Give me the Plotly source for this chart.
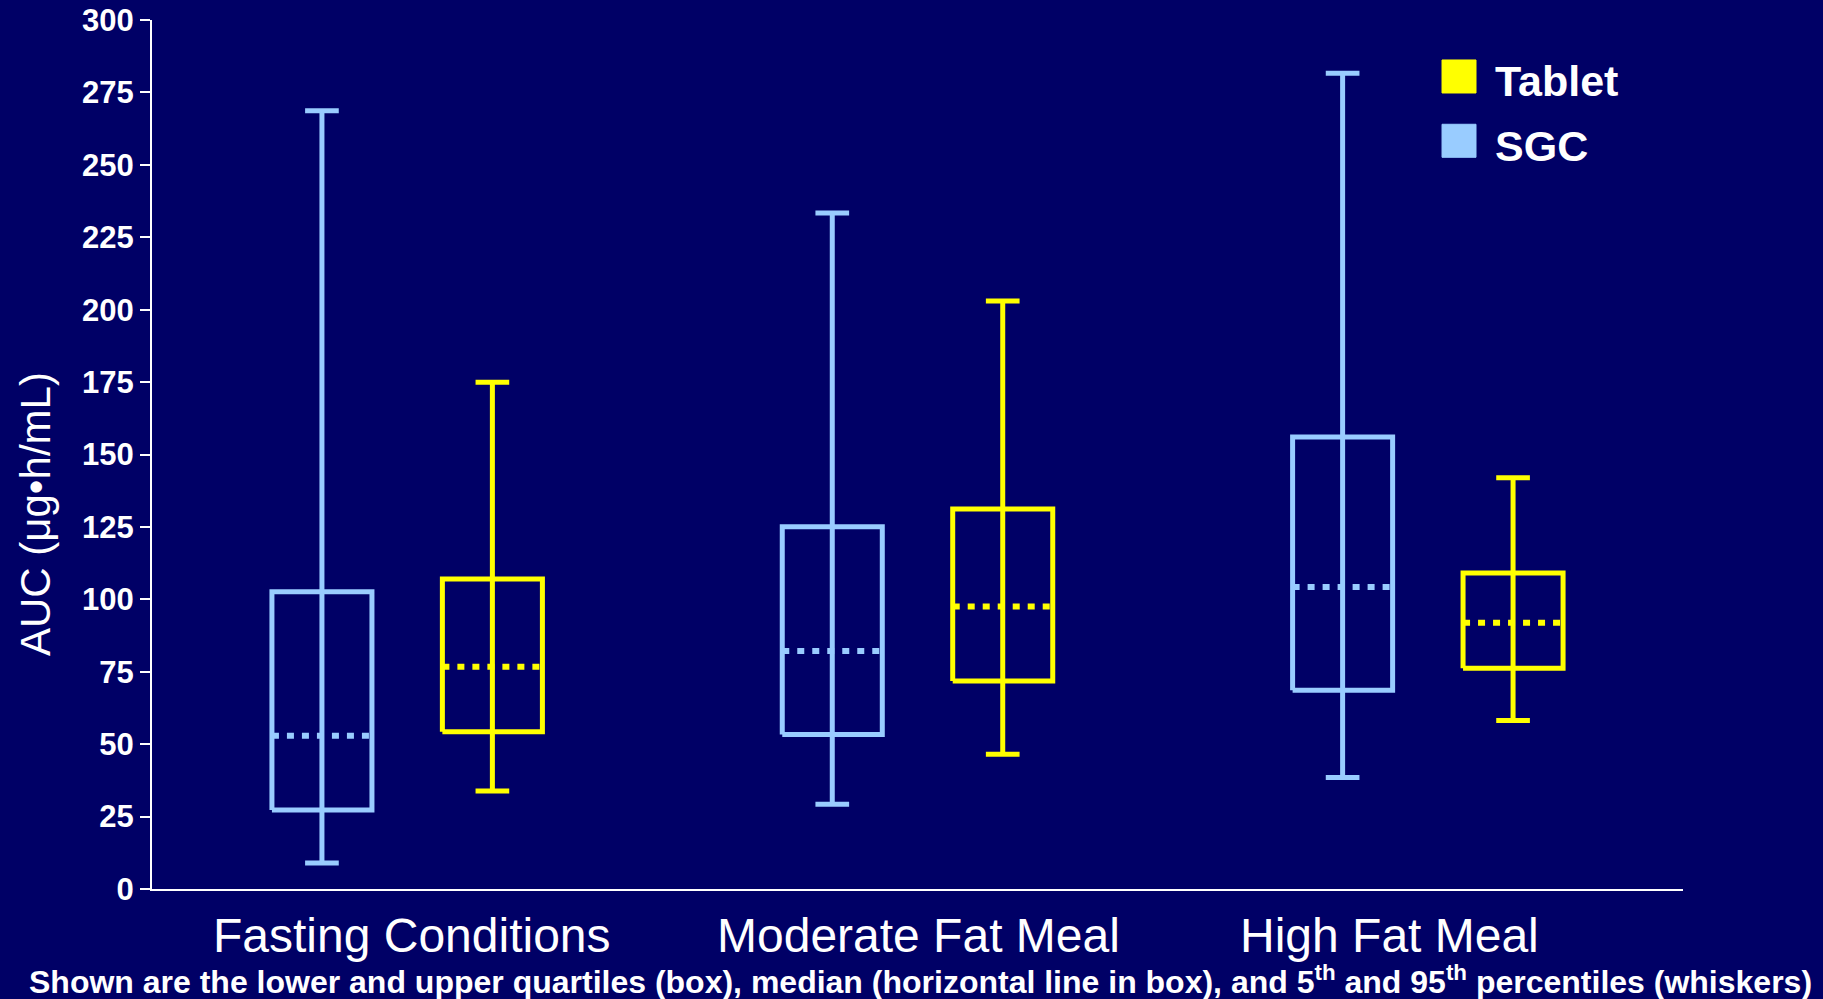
import plotly.graph_objects as go

# ---------------- data ----------------
categories = ["Fasting Conditions", "Moderate Fat Meal", "High Fat Meal"]

sgc_p5 = [9.0, 29.3, 38.5]
sgc_q1 = [27.3, 53.3, 68.6]
sgc_median = [52.9, 82.2, 104.3]
sgc_q3 = [102.6, 125.1, 156.0]
sgc_p95 = [268.7, 233.4, 281.6]

tab_p5 = [33.8, 46.5, 58.2]
tab_q1 = [54.3, 71.8, 76.2]
tab_median = [76.7, 97.5, 91.9]
tab_q3 = [107.0, 131.2, 109.1]
tab_p95 = [174.9, 203.0, 142.0]

y_ticks = [0, 25, 50, 75, 100, 125, 150, 175, 200, 225, 250, 275, 300]

# ---------------- style ----------------
BG = "#000066"
SGC_COLOR = "#99CCFF"
TAB_COLOR = "#FFFF00"
FONT = "Arial"

series = [
    ("SGC", SGC_COLOR, -0.167, sgc_p5, sgc_q1, sgc_median, sgc_q3, sgc_p95),
    ("Tablet", TAB_COLOR, 0.167, tab_p5, tab_q1, tab_median, tab_q3, tab_p95),
]
BOX_HALF = 0.098
CAP_HALF = 0.033

fig = go.Figure()

for name, color, offset, p5, q1, med, q3, p95 in series:
    bx, by, wx, wy, mx, my = [], [], [], [], [], []
    for i in range(len(categories)):
        c = i + offset
        bx += [c - BOX_HALF, c + BOX_HALF, c + BOX_HALF, c - BOX_HALF, c - BOX_HALF, None]
        by += [q1[i], q1[i], q3[i], q3[i], q1[i], None]
        wx += [c, c, None, c - CAP_HALF, c + CAP_HALF, None, c - CAP_HALF, c + CAP_HALF, None]
        wy += [p5[i], p95[i], None, p5[i], p5[i], None, p95[i], p95[i], None]
        mx += [c - BOX_HALF, c + BOX_HALF, None]
        my += [med[i], med[i], None]
    fig.add_trace(go.Scatter(x=wx, y=wy, mode="lines", name=name,
                             line=dict(color=color, width=5), showlegend=False,
                             hoverinfo="skip"))
    fig.add_trace(go.Scatter(x=bx, y=by, mode="lines", name=name,
                             line=dict(color=color, width=5), showlegend=False,
                             hoverinfo="skip"))
    fig.add_trace(go.Scatter(x=mx, y=my, mode="lines", name=name + " median",
                             line=dict(color=color, width=6, dash="7px,8px"),
                             showlegend=False, hoverinfo="skip"))

# category labels (below the axis)
label_shift = [5, 1, -38]
for i, cat in enumerate(categories):
    fig.add_annotation(x=i, y=0, xref="x", yref="paper", text=cat,
                       showarrow=False, xanchor="center", yanchor="middle",
                       xshift=label_shift[i], yshift=-46,
                       font=dict(family=FONT, size=48, color="white"))

# y-axis title
fig.add_annotation(x=-0.0764, y=0.4315, xref="paper", yref="paper",
                   text="AUC (μg•h/mL)", textangle=-90, showarrow=False,
                   xanchor="center", yanchor="middle",
                   font=dict(family=FONT, size=42, color="white"))

# manual legend (squares + bold labels)
legend_items = [("Tablet", TAB_COLOR, 0.935), ("SGC", SGC_COLOR, 0.861)]
for text, color, yc in legend_items:
    fig.add_shape(type="rect", xref="paper", yref="paper",
                  x0=0.8426, x1=0.8648, y0=yc - 0.019, y1=yc + 0.019,
                  fillcolor=color, line=dict(color=color, width=1))
    fig.add_annotation(x=0.876, y=yc, xref="paper", yref="paper", text=text,
                       showarrow=False, xanchor="left", yanchor="middle",
                       yshift=-5,
                       font=dict(family=FONT, size=43, color="white", weight="bold"))

# footnote
fig.add_annotation(
    x=0.502, y=-0.105, xref="paper", yref="paper",
    text="Shown are the lower and upper quartiles (box), median (horizontal line in box), "
         "and 5<sup>th</sup> and 95<sup>th</sup> percentiles (whiskers)",
    showarrow=False, xanchor="center", yanchor="middle",
    font=dict(family=FONT, size=32, color="white", weight="bold"))

fig.update_layout(
    width=1823, height=999,
    margin=dict(l=152, r=140, t=20, b=110),
    paper_bgcolor=BG, plot_bgcolor=BG,
    showlegend=False,
    xaxis=dict(range=[-0.5, 2.5], showline=True, linecolor="white", linewidth=2,
               showgrid=False, zeroline=False, showticklabels=False, ticks="",
               automargin=False),
    yaxis=dict(range=[0, 300], tickvals=y_ticks, showline=True, linecolor="white",
               linewidth=2, showgrid=False, zeroline=False, ticks="outside",
               ticklen=10, tickwidth=2, tickcolor="white", automargin=False,
               tickfont=dict(family=FONT, size=31, color="white", weight="bold")),
)

fig.write_html("out.html", config={"displayModeBar": False},
               post_script="document.body.style.margin='0';")
